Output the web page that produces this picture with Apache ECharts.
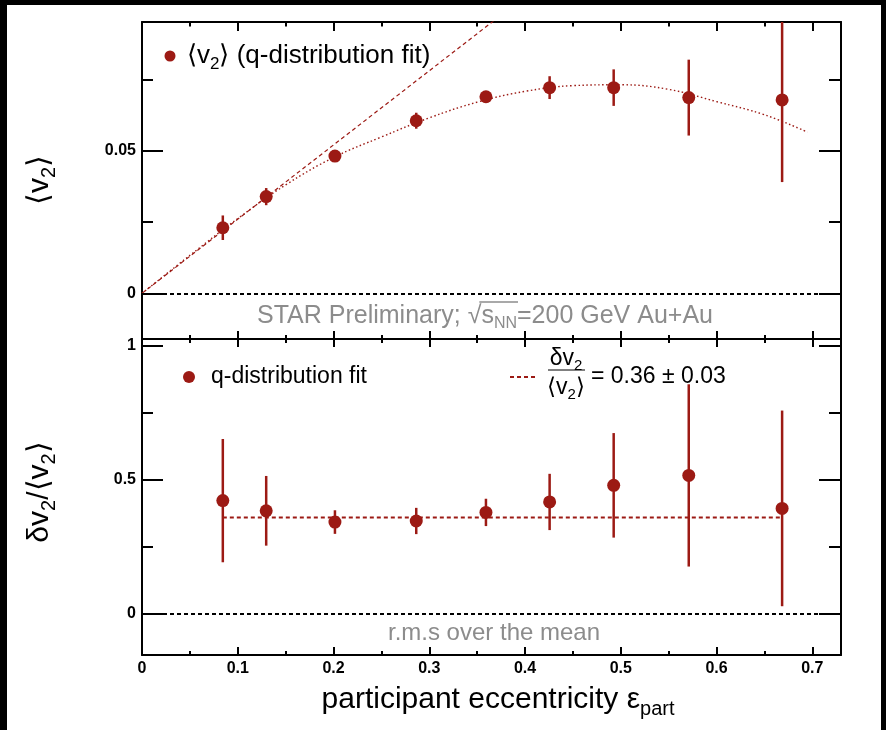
<!DOCTYPE html>
<html><head><meta charset="utf-8">
<script src="https://cdn.jsdelivr.net/npm/echarts@6/dist/echarts.min.js"></script>
<style>html,body{margin:0;padding:0;background:#fff}#c{width:886px;height:730px}</style>
</head><body><div id="c"></div>
<script>
// ---- data ----
const epsX     = [0.0844, 0.1297, 0.2015, 0.2864, 0.3592, 0.4257, 0.4926, 0.5710, 0.6685];
const v2Mean   = [0.0230, 0.0339, 0.0481, 0.0605, 0.0689, 0.0721, 0.0721, 0.0686, 0.0678];
const v2Err    = [0.0043, 0.0030, 0.0010, 0.0028, 0.0012, 0.0040, 0.0064, 0.0133, 0.0288];
const ratio    = [0.423, 0.385, 0.343, 0.347, 0.379, 0.418, 0.480, 0.517, 0.394];
const ratioErr = [0.230, 0.130, 0.044, 0.049, 0.051, 0.105, 0.195, 0.340, 0.365];
const meanRatio = 0.36;
const linFitX = [0, 0.38];
const linFitY = [0, 0.0988];
const curveX = [0, 0.05, 0.10, 0.15, 0.20, 0.25, 0.30, 0.35, 0.40, 0.45, 0.50, 0.55, 0.60, 0.65, 0.695];
const curveY = [0, 0.0133, 0.0262, 0.0380, 0.0476, 0.0548, 0.0615, 0.0670, 0.0708, 0.0728, 0.0731, 0.0715, 0.0672, 0.0626, 0.0565];
const xMajor = [0, 0.1, 0.2, 0.3, 0.4, 0.5, 0.6, 0.7];
const xMinor = [0.05, 0.15, 0.25, 0.35, 0.45, 0.55, 0.65];
const topMajor = [0, 0.05];
const topMinor = [0.025, 0.075];
const botMajor = [0, 0.5, 1];
const botMinor = [0.25, 0.75];

const RED = '#9c1a14';
const GRAY = '#8c8c8c';
const F = "'Liberation Sans', Arial, Helvetica, sans-serif";
const X_RANGE = [0, 0.73];
const TOP_RANGE = [-0.016, 0.0951];
const BOT_RANGE = [-0.153, 1.026];

const rectTop = {left: 142, top: 22, width: 699, height: 317};
const rectBot = {left: 142, top: 339, width: 699, height: 316};

function xAx(g, pos, ticks, len, showLine, labels) {
  return {type: 'value', gridIndex: g, position: pos, min: X_RANGE[0], max: X_RANGE[1],
    axisLine: {show: showLine, onZero: false, lineStyle: {color: '#000', width: 2}},
    axisTick: {show: true, inside: true, length: len, customValues: ticks, lineStyle: {color: '#000', width: 2}},
    axisLabel: labels ? {show: true, customValues: labels, fontFamily: F, fontWeight: 'bold', fontSize: 16, color: '#000', margin: 6} : {show: false},
    splitLine: {show: false}, minorTick: {show: false}, minorSplitLine: {show: false}};
}
function yAx(g, pos, range, ticks, len, showLine, labels) {
  return {type: 'value', gridIndex: g, position: pos, min: range[0], max: range[1],
    axisLine: {show: showLine, onZero: false, lineStyle: {color: '#000', width: 2}},
    axisTick: {show: true, inside: true, length: len, customValues: ticks, lineStyle: {color: '#000', width: 2}},
    axisLabel: labels ? {show: true, customValues: labels, fontFamily: F, fontWeight: 'bold', fontSize: 16, color: '#000', margin: 6} : {show: false},
    splitLine: {show: false}, minorTick: {show: false}, minorSplitLine: {show: false}};
}

function errBar(params, api) {
  const x = api.value(0), y = api.value(1), e = api.value(2);
  const cs = params.coordSys;
  const p1 = api.coord([x, y - e]), p2 = api.coord([x, y + e]);
  const t = cs.y, b = cs.y + cs.height;
  const c = v => Math.min(Math.max(v, t), b);
  return {type: 'line', shape: {x1: p1[0], y1: c(p1[1]), x2: p2[0], y2: c(p2[1])},
    style: {stroke: RED, lineWidth: 2.5}};
}

const zeroLine = {silent: true, symbol: 'none', animation: false, label: {show: false},
  lineStyle: {color: '#000', type: [4, 3], width: 2}, data: [{yAxis: 0}]};

// text measuring for the sqrt overline
const cv = document.createElement('canvas').getContext('2d');
function tw(str, size) { cv.font = size + 'px ' + F; return cv.measureText(str).width; }
const starX = 257;
const wPre = tw('STAR Preliminary; ', 25), wSq = tw('\u221A', 25), wS = tw('s', 25), wNN = tw('NN', 16);

const sub = (size, color) => ({fontSize: size, fontFamily: F, fill: color || '#000', color: color || '#000', verticalAlign: 'bottom', lineHeight: size});
const main = (size, lh, color) => ({fontSize: size, fontFamily: F, fill: color || '#000', color: color || '#000', lineHeight: lh});

const graphics = [
  // frame of the picture
  {type: 'rect', shape: {x: 0, y: 0, width: 886, height: 5}, style: {fill: '#000'}, z: 100},
  {type: 'rect', shape: {x: 0, y: 0, width: 7, height: 730}, style: {fill: '#000'}, z: 100},
  {type: 'rect', shape: {x: 881, y: 0, width: 5, height: 730}, style: {fill: '#000'}, z: 100},
  // top legend
  {type: 'circle', shape: {cx: 170, cy: 56, r: 5.5}, style: {fill: RED}, z: 50},
  {type: 'text', x: 187, y: 56, z: 50, style: {text: '{m|\u27E8v}{s|2}{m|\u27E9 (q-distribution fit)}', verticalAlign: 'middle', align: 'left',
    rich: {m: main(26, 34), s: sub(17)}}},
  // bottom legend
  {type: 'circle', shape: {cx: 189, cy: 377, r: 6}, style: {fill: RED}, z: 50},
  {type: 'text', x: 211, y: 377, z: 50, style: {text: 'q-distribution fit', font: '23px ' + F, fill: '#000', verticalAlign: 'middle', align: 'left'}},
  {type: 'line', shape: {x1: 510, y1: 377, x2: 538, y2: 377}, style: {stroke: RED, lineWidth: 2, lineDash: [4, 3]}, z: 50},
  {type: 'text', x: 566, y: 359, z: 50, style: {text: '{m|\u03B4v}{s|2}', align: 'center', verticalAlign: 'middle', rich: {m: main(23, 28), s: sub(15)}}},
  {type: 'line', shape: {x1: 548, y1: 370, x2: 585, y2: 370}, style: {stroke: '#000', lineWidth: 1.2}, z: 50},
  {type: 'text', x: 566, y: 388, z: 50, style: {text: '{m|\u27E8v}{s|2}{m|\u27E9}', align: 'center', verticalAlign: 'middle', rich: {m: main(23, 28), s: sub(15)}}},
  {type: 'text', x: 591, y: 377, z: 50, style: {text: '= 0.36 \u00B1 0.03', font: '23px ' + F, fill: '#000', verticalAlign: 'middle', align: 'left'}},
  // annotations
  {type: 'text', x: starX, y: 316, z: 50, style: {text: '{m|STAR Preliminary; \u221As}{s|NN}{m|=200 GeV Au+Au}', align: 'left', verticalAlign: 'middle',
    fill: GRAY, rich: {m: main(25, 32, GRAY), s: sub(16, GRAY)}}},
  {type: 'line', shape: {x1: starX + wPre + wSq * 0.85, y1: 302, x2: starX + wPre + wSq + wS + wNN + 1, y2: 302}, style: {stroke: GRAY, lineWidth: 1.5}, z: 50},
  {type: 'text', x: 494, y: 633, z: 50, style: {text: 'r.m.s over the mean', font: '24px ' + F, fill: GRAY, align: 'center', verticalAlign: 'middle'}},
  // axis titles
  {type: 'text', x: 40, y: 180, rotation: Math.PI / 2, z: 50, style: {text: '{m|\u27E8v}{s|2}{m|\u27E9}', align: 'center', verticalAlign: 'middle',
    rich: {m: main(30, 38), s: sub(20)}}},
  {type: 'text', x: 40, y: 492, rotation: Math.PI / 2, z: 50, style: {text: '{m|\u03B4v}{s|2}{m|/\u27E8v}{s|2}{m|\u27E9}', align: 'center', verticalAlign: 'middle',
    rich: {m: main(30, 38), s: sub(20)}}},
  {type: 'text', x: 498, y: 700, z: 50, style: {text: '{m|participant eccentricity \u03B5}{s|part}', align: 'center', verticalAlign: 'middle',
    rich: {m: main(30, 38), s: sub(20)}}}
];

const option = {
  animation: false,
  backgroundColor: '#fff',
  grid: [
    Object.assign({containLabel: false, outerBoundsMode: 'none'}, rectTop),
    Object.assign({containLabel: false, outerBoundsMode: 'none'}, rectTop),
    Object.assign({containLabel: false, outerBoundsMode: 'none'}, rectBot),
    Object.assign({containLabel: false, outerBoundsMode: 'none'}, rectBot)
  ],
  xAxis: [
    xAx(0, 'bottom', xMajor, 8, true, null),
    xAx(0, 'top', xMajor, 9, true, null),
    xAx(1, 'bottom', xMinor, 4, false, null),
    xAx(1, 'top', xMinor, 4.5, false, null),
    xAx(2, 'bottom', xMajor, 8, true, xMajor),
    xAx(2, 'top', xMajor, 8, true, null),
    xAx(3, 'bottom', xMinor, 4, false, null),
    xAx(3, 'top', xMinor, 4, false, null)
  ],
  yAxis: [
    yAx(0, 'left', TOP_RANGE, topMajor, 21, true, topMajor),
    yAx(0, 'right', TOP_RANGE, topMajor, 22, true, null),
    yAx(1, 'left', TOP_RANGE, topMinor, 11, false, null),
    yAx(1, 'right', TOP_RANGE, topMinor, 12, false, null),
    yAx(2, 'left', BOT_RANGE, botMajor, 21, true, botMajor),
    yAx(2, 'right', BOT_RANGE, botMajor, 22, true, null),
    yAx(3, 'left', BOT_RANGE, botMinor, 11, false, null),
    yAx(3, 'right', BOT_RANGE, botMinor, 12, false, null)
  ],
  series: [
    {type: 'line', xAxisIndex: 0, yAxisIndex: 0, data: linFitX.map((x, i) => [x, linFitY[i]]),
      symbol: 'none', lineStyle: {color: RED, width: 1.2, type: [4, 3]}, z: 2, silent: true},
    {type: 'line', xAxisIndex: 0, yAxisIndex: 0, data: curveX.map((x, i) => [x, curveY[i]]), smooth: 0.4,
      symbol: 'none', lineStyle: {color: RED, width: 1.4, type: [1.5, 2.5]}, z: 2, silent: true},
    {type: 'custom', xAxisIndex: 0, yAxisIndex: 0, data: epsX.map((x, i) => [x, v2Mean[i], v2Err[i]]),
      renderItem: errBar, z: 3, silent: true},
    {type: 'scatter', xAxisIndex: 0, yAxisIndex: 0, data: epsX.map((x, i) => [x, v2Mean[i]]),
      symbol: 'circle', symbolSize: 13, itemStyle: {color: RED, opacity: 1}, z: 4, markLine: zeroLine},
    {type: 'line', xAxisIndex: 4, yAxisIndex: 4, data: [[epsX[0], meanRatio], [epsX[epsX.length - 1], meanRatio]],
      symbol: 'none', lineStyle: {color: RED, width: 2, type: [4, 3]}, z: 2, silent: true},
    {type: 'custom', xAxisIndex: 4, yAxisIndex: 4, data: epsX.map((x, i) => [x, ratio[i], ratioErr[i]]),
      renderItem: errBar, z: 3, silent: true},
    {type: 'scatter', xAxisIndex: 4, yAxisIndex: 4, data: epsX.map((x, i) => [x, ratio[i]]),
      symbol: 'circle', symbolSize: 13, itemStyle: {color: RED, opacity: 1}, z: 4, markLine: zeroLine}
  ],
  graphic: graphics
};

const chart = echarts.init(document.getElementById('c'), null, {renderer: 'canvas'});
chart.setOption(option);
</script>
</body></html>
